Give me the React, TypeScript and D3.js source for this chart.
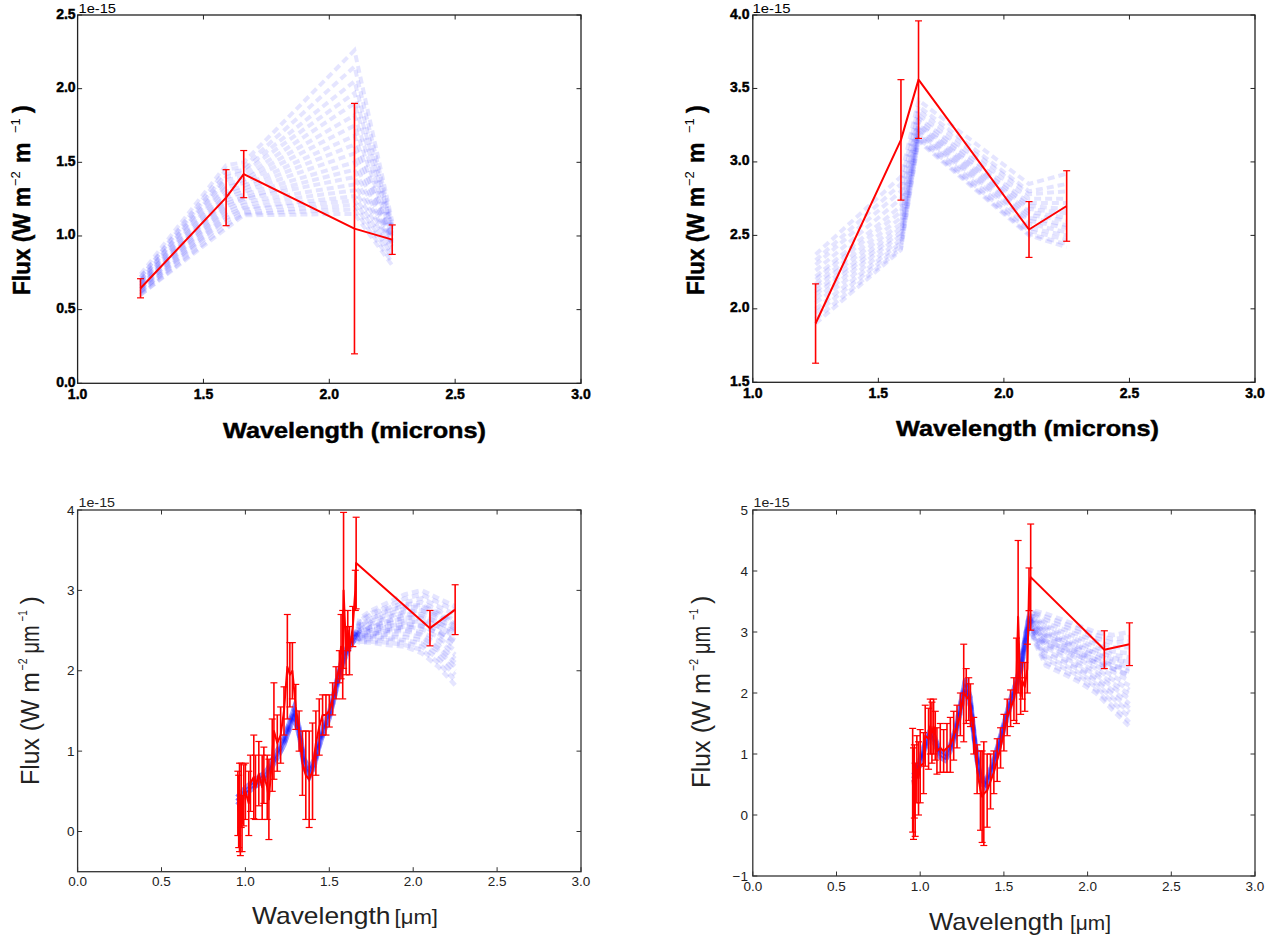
import React from 'react';
import * as d3 from 'd3';

const W = 1284;
const H = 943;

// ---------- top row: photometric fit (5 filters) ----------
const photWl = [1.25, 1.59, 1.66, 2.10, 2.25];

const p1Flux = [0.645, 1.26, 1.42, 1.05, 0.975];
const p1Err = [0.065, 0.19, 0.16, 0.85, 0.10];
const p1Models = [
  [0.74, 1.48, 1.50, 2.26, 1.10],
  [0.72, 1.45, 1.47, 2.15, 1.08],
  [0.72, 1.42, 1.45, 2.05, 1.06],
  [0.70, 1.40, 1.43, 1.97, 1.05],
  [0.70, 1.38, 1.40, 1.90, 1.04],
  [0.69, 1.35, 1.38, 1.82, 1.02],
  [0.68, 1.33, 1.36, 1.75, 1.00],
  [0.68, 1.30, 1.34, 1.68, 0.99],
  [0.67, 1.28, 1.32, 1.62, 0.98],
  [0.66, 1.26, 1.30, 1.56, 0.97],
  [0.66, 1.24, 1.28, 1.50, 0.96],
  [0.65, 1.22, 1.26, 1.45, 0.95],
  [0.64, 1.20, 1.25, 1.40, 0.94],
  [0.64, 1.18, 1.23, 1.35, 0.93],
  [0.63, 1.16, 1.21, 1.31, 0.91],
  [0.62, 1.14, 1.19, 1.27, 0.89],
  [0.62, 1.12, 1.18, 1.24, 0.87],
  [0.61, 1.10, 1.16, 1.21, 0.85],
  [0.60, 1.07, 1.15, 1.18, 0.82],
  [0.60, 1.05, 1.14, 1.15, 0.80],
];

const p2Flux = [1.90, 3.15, 3.56, 2.54, 2.70];
const p2Err = [0.27, 0.41, 0.40, 0.19, 0.24];
const p2Models = [
  [2.37, 2.90, 3.42, 2.85, 2.92],
  [2.33, 2.85, 3.38, 2.80, 2.85],
  [2.30, 2.80, 3.35, 2.78, 2.80],
  [2.26, 2.75, 3.32, 2.75, 2.75],
  [2.22, 2.70, 3.30, 2.72, 2.72],
  [2.20, 2.66, 3.28, 2.70, 2.68],
  [2.17, 2.62, 3.26, 2.68, 2.65],
  [2.15, 2.58, 3.25, 2.66, 2.62],
  [2.12, 2.55, 3.23, 2.64, 2.60],
  [2.10, 2.52, 3.22, 2.62, 2.57],
  [2.07, 2.50, 3.20, 2.60, 2.55],
  [2.04, 2.47, 3.19, 2.58, 2.52],
  [2.00, 2.45, 3.18, 2.55, 2.50],
  [1.97, 2.43, 3.16, 2.53, 2.47],
  [1.93, 2.41, 3.15, 2.51, 2.44],
  [1.90, 2.40, 3.14, 2.50, 2.42],
];

// ---------- bottom row: spectrum + photometry ----------
const bPhotWl = [1.66, 2.10, 2.25];
const tailWl = [1.68, 1.75, 1.85, 1.95, 2.05, 2.15, 2.25];

// bottom-left
const p3SpecWl = [0.955, 0.96, 0.965, 0.97, 0.975, 0.98, 0.99, 1.0, 1.02, 1.03, 1.05, 1.06, 1.08, 1.1, 1.11, 1.13,
  1.14, 1.16, 1.17, 1.19, 1.21, 1.23, 1.25, 1.265, 1.28, 1.3, 1.32, 1.34, 1.36, 1.38, 1.4, 1.42, 1.44, 1.46,
  1.48, 1.5, 1.52, 1.54, 1.56, 1.57, 1.58, 1.585, 1.6, 1.61, 1.62, 1.64, 1.655];
const p3SpecFlux = [0.35, 0.25, 0.3, 0.05, 0.45, 0.1, 0.45, 0.5, 0.35, 0.6, 0.68, 0.55, 0.72, 0.55, 0.7, 0.55,
  0.4, 0.95, 1.25, 1.1, 1.2, 1.5, 2.05, 1.95, 2.0, 1.55, 1.25, 0.85, 0.7, 0.65, 0.75, 1.1, 1.3, 1.45,
  1.45, 1.5, 1.65, 1.85, 2.05, 2.3, 2.2, 3.0, 2.25, 2.5, 2.25, 2.55, 3.0];
const p3SpecErr = [0.4, 0.45, 0.55, 0.35, 0.4, 0.35, 0.38, 0.35, 0.4, 0.35, 0.52, 0.4, 0.4, 0.4, 0.35, 0.4,
  0.5, 0.45, 0.6, 0.35, 0.35, 0.3, 0.65, 0.4, 0.35, 0.28, 0.25, 0.4, 0.55, 0.6, 0.6, 0.4, 0.35, 0.25,
  0.25, 0.2, 0.2, 0.2, 0.2, 0.4, 0.55, 0.97, 0.3, 0.25, 0.3, 0.25, 0.25];
const p3PhotFlux = [3.34, 2.53, 2.76];
const p3PhotErr = [0.57, 0.22, 0.31];

const p3BandWl = [0.95, 0.98, 1.0, 1.03, 1.06, 1.1, 1.13, 1.16, 1.2, 1.23, 1.26, 1.29, 1.32, 1.35, 1.38, 1.41,
  1.44, 1.47, 1.5, 1.53, 1.56, 1.59, 1.62, 1.65];
const p3BandLo = [0.33, 0.41, 0.46, 0.51, 0.56, 0.62, 0.68, 0.8, 0.95, 1.07, 1.25, 1.42, 1.19, 0.79, 0.67, 0.8,
  1.05, 1.25, 1.4, 1.65, 1.93, 2.13, 2.28, 2.38];
const p3BandMid = [0.38, 0.45, 0.5, 0.55, 0.6, 0.66, 0.72, 0.85, 1.0, 1.12, 1.3, 1.48, 1.25, 0.85, 0.72, 0.85,
  1.1, 1.3, 1.45, 1.7, 1.98, 2.18, 2.32, 2.42];
const p3BandHi = [0.43, 0.5, 0.55, 0.6, 0.65, 0.71, 0.77, 0.9, 1.05, 1.17, 1.35, 1.54, 1.31, 0.91, 0.78, 0.9,
  1.15, 1.35, 1.5, 1.75, 2.03, 2.23, 2.36, 2.46];
const p3Tails = [
  [2.65, 2.75, 2.85, 2.95, 3.0, 2.9, 2.8],
  [2.6, 2.7, 2.78, 2.85, 2.9, 2.8, 2.7],
  [2.55, 2.62, 2.7, 2.78, 2.8, 2.7, 2.58],
  [2.5, 2.55, 2.62, 2.7, 2.7, 2.6, 2.48],
  [2.48, 2.52, 2.58, 2.62, 2.6, 2.5, 2.35],
  [2.45, 2.48, 2.52, 2.55, 2.52, 2.42, 2.25],
  [2.42, 2.45, 2.48, 2.5, 2.45, 2.32, 2.15],
  [2.4, 2.42, 2.42, 2.42, 2.38, 2.25, 2.05],
  [2.38, 2.38, 2.38, 2.35, 2.3, 2.15, 1.95],
  [2.35, 2.35, 2.32, 2.3, 2.22, 2.05, 1.82],
  [2.5, 2.6, 2.68, 2.72, 2.75, 2.68, 2.55],
  [2.45, 2.5, 2.55, 2.6, 2.62, 2.55, 2.45],
  [2.62, 2.72, 2.8, 2.9, 2.95, 2.85, 2.75],
  [2.57, 2.65, 2.74, 2.82, 2.85, 2.75, 2.62],
  [2.52, 2.58, 2.66, 2.74, 2.75, 2.65, 2.52],
  [2.49, 2.54, 2.6, 2.66, 2.65, 2.55, 2.42],
  [2.46, 2.5, 2.55, 2.58, 2.56, 2.46, 2.3],
  [2.43, 2.46, 2.5, 2.52, 2.48, 2.38, 2.2],
  [2.41, 2.43, 2.45, 2.46, 2.42, 2.28, 2.1],
  [2.39, 2.4, 2.4, 2.38, 2.34, 2.2, 2.0],
  [2.36, 2.36, 2.35, 2.32, 2.26, 2.1, 1.88],
  [2.55, 2.65, 2.75, 2.8, 2.82, 2.72, 2.6],
  [2.47, 2.55, 2.62, 2.66, 2.68, 2.6, 2.5],
  [2.4, 2.45, 2.5, 2.55, 2.55, 2.48, 2.38],
];

// bottom-right
const p4SpecWl = [0.955, 0.96, 0.965, 0.97, 0.98, 0.99, 1.0, 1.02, 1.03, 1.05, 1.06, 1.07, 1.08, 1.09, 1.1, 1.12,
  1.14, 1.16, 1.18, 1.2, 1.22, 1.24, 1.26, 1.275, 1.29, 1.3, 1.32, 1.34, 1.36, 1.37, 1.38, 1.4, 1.42, 1.44,
  1.46, 1.48, 1.5, 1.52, 1.54, 1.56, 1.575, 1.585, 1.6, 1.61, 1.625, 1.64, 1.65];
const p4SpecFlux = [0.57, 0.35, 0.55, 0.25, 0.75, 0.6, 0.8, 0.85, 1.3, 1.25, 1.45, 1.35, 1.45, 1.3, 1.05, 1.1,
  1.05, 1.1, 1.15, 1.3, 1.45, 1.65, 2.0, 1.95, 1.9, 1.8, 1.3, 0.75, 0.4, 0.3, 0.35, 0.4, 0.55, 0.7,
  0.9, 1.1, 1.35, 1.6, 1.75, 1.9, 2.2, 3.25, 1.95, 2.2, 2.1, 2.4, 3.7];
const p4SpecErr = [0.85, 0.75, 0.6, 0.6, 0.55, 0.6, 0.6, 0.5, 0.5, 0.5, 0.45, 0.5, 0.45, 0.4, 0.38, 0.4,
  0.35, 0.4, 0.45, 0.4, 0.35, 0.35, 0.8, 0.45, 0.35, 0.35, 0.3, 0.4, 0.65, 0.75, 0.85, 0.6, 0.45, 0.35,
  0.35, 0.33, 0.3, 0.3, 0.3, 0.35, 0.7, 1.25, 0.3, 0.3, 0.4, 0.4, 0.35];
const p4PhotFlux = [3.9, 2.71, 2.8];
const p4PhotErr = [0.87, 0.31, 0.35];

const p4BandWl = [0.96, 0.98, 1.0, 1.03, 1.06, 1.09, 1.12, 1.15, 1.18, 1.21, 1.24, 1.27, 1.3, 1.33, 1.36, 1.39,
  1.42, 1.45, 1.48, 1.51, 1.54, 1.57, 1.6, 1.63, 1.65];
const p4BandLo = [0.54, 0.69, 0.82, 1.09, 1.29, 1.14, 0.94, 0.89, 1.04, 1.28, 1.67, 2.06, 1.77, 1.03, 0.54, 0.44,
  0.64, 0.89, 1.19, 1.49, 1.79, 2.04, 2.33, 2.82, 3.12];
const p4BandMid = [0.6, 0.75, 0.88, 1.15, 1.35, 1.2, 1.0, 0.95, 1.1, 1.35, 1.75, 2.15, 1.85, 1.1, 0.6, 0.5,
  0.7, 0.95, 1.25, 1.55, 1.85, 2.1, 2.4, 2.9, 3.2];
const p4BandHi = [0.66, 0.81, 0.94, 1.21, 1.41, 1.26, 1.06, 1.01, 1.16, 1.42, 1.83, 2.24, 1.93, 1.17, 0.66, 0.56,
  0.76, 1.01, 1.31, 1.61, 1.91, 2.16, 2.47, 2.98, 3.28];
const p4Tails = [
  [3.35, 3.3, 3.2, 3.1, 3.0, 2.95, 3.0],
  [3.3, 3.2, 3.1, 3.0, 2.9, 2.82, 2.85],
  [3.25, 3.1, 3.0, 2.9, 2.8, 2.68, 2.65],
  [3.2, 3.05, 2.92, 2.82, 2.7, 2.58, 2.5],
  [3.15, 2.98, 2.85, 2.72, 2.6, 2.45, 2.35],
  [3.1, 2.9, 2.78, 2.65, 2.5, 2.35, 2.2],
  [3.05, 2.82, 2.7, 2.55, 2.4, 2.22, 2.05],
  [3.0, 2.75, 2.6, 2.45, 2.3, 2.1, 1.9],
  [2.95, 2.65, 2.52, 2.38, 2.2, 1.98, 1.75],
  [2.9, 2.55, 2.42, 2.28, 2.1, 1.85, 1.6],
  [2.85, 2.45, 2.32, 2.18, 2.0, 1.72, 1.45],
  [3.1, 2.85, 2.75, 2.65, 2.55, 2.45, 2.4],
  [3.32, 3.25, 3.15, 3.05, 2.95, 2.88, 2.92],
  [3.28, 3.15, 3.05, 2.95, 2.85, 2.75, 2.75],
  [3.22, 3.08, 2.96, 2.86, 2.75, 2.63, 2.58],
  [3.18, 3.0, 2.88, 2.77, 2.65, 2.5, 2.42],
  [3.12, 2.94, 2.82, 2.68, 2.55, 2.4, 2.28],
  [3.08, 2.86, 2.74, 2.6, 2.45, 2.28, 2.12],
  [3.02, 2.78, 2.65, 2.5, 2.35, 2.16, 1.98],
  [2.98, 2.7, 2.56, 2.42, 2.25, 2.04, 1.82],
  [2.92, 2.6, 2.47, 2.33, 2.15, 1.92, 1.68],
  [2.88, 2.5, 2.37, 2.23, 2.05, 1.78, 1.52],
  [3.15, 2.95, 2.85, 2.75, 2.65, 2.55, 2.5],
  [3.05, 2.8, 2.7, 2.6, 2.5, 2.4, 2.3],
];

const topXTicks = [1.0, 1.5, 2.0, 2.5, 3.0];
const p1YTicks = [0.0, 0.5, 1.0, 1.5, 2.0, 2.5];
const p2YTicks = [1.5, 2.0, 2.5, 3.0, 3.5, 4.0];
const botXTicks = [0.0, 0.5, 1.0, 1.5, 2.0, 2.5, 3.0];
const p3YTicks = [0, 1, 2, 3, 4];
const p4YTicks = [-1, 0, 1, 2, 3, 4, 5];

// build model lists (band variant + tail per model)
const bandModels = (bandWl, bands, tails) =>
  tails.map((t, i) => ({ wl: [...bandWl, ...tailWl], flux: [...bands[i % 3], ...t] }));

const fmt1 = d3.format('.1f');
const fmtInt = (v) => (v < 0 ? '\u2212' + Math.abs(v) : String(v));

const panels = [
  {
    box: { l: 77.6, r: 581, t: 15, b: 383.3 },
    xDomain: [1, 3], yDomain: [0, 2.5], xTicks: topXTicks, yTicks: p1YTicks, fmtY: fmt1,
    bold: true, modelWidth: 4, phase: 0,
    models: p1Models.map((f) => ({ wl: photWl, flux: f })),
    red: { wl: photWl, flux: p1Flux, err: p1Err },
    offset: { x: 78.5, y: 13, len: 37.5 },
    xTickBase: 399, yTickRight: 75.6, yTickShift: -1.5,
    xlabel: [{ text: 'Wavelength (microns)', x: 223, len: 263, size: 22 }], xlabelBase: 438,
    ylabel: { bx: 30, cy: 199, size: 23, sup: 13, dy: -10,
      parts: [['Flux (W m', -96, 108], ['\u22122', 13], ['m', 36], ['\u22121', 66], [')', 86]] },
  },
  {
    box: { l: 752.8, r: 1255, t: 15, b: 382.3 },
    xDomain: [1, 3], yDomain: [1.5, 4.0], xTicks: topXTicks, yTicks: p2YTicks, fmtY: fmt1,
    bold: true, modelWidth: 4, phase: 0,
    models: p2Models.map((f) => ({ wl: photWl, flux: f })),
    red: { wl: photWl, flux: p2Flux, err: p2Err },
    offset: { x: 752.5, y: 13, len: 38 },
    xTickBase: 398, yTickRight: 749.5, yTickShift: -1.5,
    xlabel: [{ text: 'Wavelength (microns)', x: 896, len: 263, size: 22 }], xlabelBase: 436,
    ylabel: { bx: 704, cy: 199, size: 23, sup: 13, dy: -10,
      parts: [['Flux (W m', -96, 108], ['\u22122', 13], ['m', 36], ['\u22121', 66], [')', 86]] },
  },
  {
    box: { l: 77.6, r: 581, t: 510, b: 871.7 },
    xDomain: [0, 3], yDomain: [-0.5, 4], xTicks: botXTicks, yTicks: p3YTicks, fmtY: fmtInt,
    bold: false, modelWidth: 4.5, phase: 3,
    models: bandModels(p3BandWl, [p3BandLo, p3BandMid, p3BandHi], p3Tails),
    red: {
      wl: [...p3SpecWl, ...bPhotWl],
      flux: [...p3SpecFlux, ...p3PhotFlux],
      err: [...p3SpecErr, ...p3PhotErr],
    },
    offset: { x: 78.5, y: 506.7, len: 36.5 },
    xTickBase: 886, yTickRight: 74.4, yTickShift: 0,
    xlabel: [
      { text: 'Wavelength', x: 252, len: 138.5, size: 24 },
      { text: '[\u03bcm]', x: 394.6, len: 43.4, size: 20 },
    ], xlabelBase: 924,
    ylabel: { bx: 39, cy: 691.5, size: 25, sup: 13, dy: -12,
      parts: [['Flux (W m', -93.5, 113], ['\u22122', 21, 12], ['\u03bcm', 38, 28], ['\u22121', 70, 11], [')', 87]] },
  },
  {
    box: { l: 752.8, r: 1255, t: 510, b: 876 },
    xDomain: [0, 3], yDomain: [-1, 5], xTicks: botXTicks, yTicks: p4YTicks, fmtY: fmtInt,
    bold: false, modelWidth: 4.5, phase: 3,
    models: bandModels(p4BandWl, [p4BandLo, p4BandMid, p4BandHi], p4Tails),
    red: {
      wl: [...p4SpecWl, ...bPhotWl],
      flux: [...p4SpecFlux, ...p4PhotFlux],
      err: [...p4SpecErr, ...p4PhotErr],
    },
    offset: { x: 753.6, y: 506.7, len: 36 },
    xTickBase: 890.7, yTickRight: 748, yTickShift: 0,
    xlabel: [
      { text: 'Wavelength', x: 929, len: 134.5, size: 24 },
      { text: '[\u03bcm]', x: 1070, len: 41, size: 20 },
    ], xlabelBase: 930,
    ylabel: { bx: 710, cy: 694, size: 25, sup: 13, dy: -12,
      parts: [['Flux (W m', -94, 115], ['\u22122', 23, 12], ['\u03bcm', 40, 28], ['\u22121', 74, 11], [')', 90]] },
  },
];

function Panel({ cfg }) {
  const { box } = cfg;
  const x = d3.scaleLinear().domain(cfg.xDomain).range([box.l, box.r]);
  const y = d3.scaleLinear().domain(cfg.yDomain).range([box.b, box.t]);
  const line = d3.line().x((d) => x(d[0])).y((d) => y(d[1]));

  const font = 'Liberation Sans, Arial, sans-serif';
  const txt = cfg.bold ? '#000' : '#222';
  const weight = cfg.bold ? 700 : 400;
  const thick = cfg.bold ? { stroke: '#000', strokeWidth: 0.45 } : {};
  const tickLen = 4.5;
  const spine = cfg.bold ? '#222' : '#333';

  const { wl, flux, err } = cfg.red;
  const redPts = wl.map((w, i) => [w, flux[i]]);
  const lab = cfg.ylabel;

  return (
    <g>
      {/* model spectra */}
      <g fill="none" stroke="#0000ff" strokeOpacity={0.1} strokeWidth={cfg.modelWidth} strokeDasharray="7 4">
        {cfg.models.map((m, i) => (
          <path key={i} d={line(m.wl.map((w, j) => [w, m.flux[j]]))} strokeDashoffset={(i * cfg.phase) % 11} />
        ))}
      </g>

      {/* data with error bars */}
      <g stroke="#ff0000" fill="none">
        {wl.map((w, i) => (
          <g key={i}>
            <line x1={x(w)} x2={x(w)} y1={y(flux[i] - err[i])} y2={y(flux[i] + err[i])} strokeWidth={1.6} />
            <line x1={x(w) - 3.5} x2={x(w) + 3.5} y1={y(flux[i] - err[i])} y2={y(flux[i] - err[i])} strokeWidth={1.2} />
            <line x1={x(w) - 3.5} x2={x(w) + 3.5} y1={y(flux[i] + err[i])} y2={y(flux[i] + err[i])} strokeWidth={1.2} />
          </g>
        ))}
        <path d={line(redPts)} strokeWidth={2} strokeLinejoin="round" />
      </g>

      {/* frame */}
      <rect x={box.l} y={box.t} width={box.r - box.l} height={box.b - box.t} fill="none" stroke={spine} strokeWidth={1.3} />
      <g stroke={spine} strokeWidth={1}>
        {cfg.xTicks.map((t) => (
          <g key={'x' + t}>
            <line x1={x(t)} x2={x(t)} y1={box.b} y2={box.b - tickLen} />
            <line x1={x(t)} x2={x(t)} y1={box.t} y2={box.t + tickLen} />
          </g>
        ))}
        {cfg.yTicks.map((t) => (
          <g key={'y' + t}>
            <line x1={box.l} x2={box.l + tickLen} y1={y(t)} y2={y(t)} />
            <line x1={box.r} x2={box.r - tickLen} y1={y(t)} y2={y(t)} />
          </g>
        ))}
      </g>

      {/* tick labels */}
      <g fontFamily={font} fontWeight={weight} fill={txt} fontSize={cfg.bold ? 14 : 13.5} {...thick}>
        {cfg.xTicks.map((t) => (
          <text key={'xl' + t} x={x(t)} y={cfg.xTickBase} textAnchor="middle">{fmt1(t)}</text>
        ))}
        {cfg.yTicks.map((t) => (
          <text key={'yl' + t} x={cfg.yTickRight} y={y(t) + cfg.yTickShift} textAnchor="end" dominantBaseline="central">{cfg.fmtY(t)}</text>
        ))}
      </g>

      {/* offset text */}
      <text x={cfg.offset.x} y={cfg.offset.y} fontFamily={font} fontSize={13} fill={txt}
        textLength={cfg.offset.len} lengthAdjust="spacingAndGlyphs">1e-15</text>

      {/* x label */}
      <g fontFamily={font} fontWeight={weight} fill={txt} {...thick}>
        {cfg.xlabel.map((p) => (
          <text key={p.text} x={p.x} y={cfg.xlabelBase} fontSize={p.size}
            textLength={p.len} lengthAdjust="spacingAndGlyphs">{p.text}</text>
        ))}
      </g>

      {/* y label */}
      <g transform={`translate(${lab.bx},${lab.cy}) rotate(-90)`} fontFamily={font} fill={txt}>
        {lab.parts.map(([t, px, len], i) => {
          const isSup = t.startsWith('\u2212');
          return (
            <text key={i} x={px} y={isSup ? lab.dy : 0}
              fontSize={isSup ? lab.sup : lab.size}
              fontWeight={isSup ? 400 : weight}
              {...(isSup ? {} : thick)}
              {...(len ? { textLength: len, lengthAdjust: 'spacingAndGlyphs' } : {})}>
              {t}
            </text>
          );
        })}
      </g>
    </g>
  );
}

export default function App() {
  return (
    <svg width={W} height={H} viewBox={`0 0 ${W} ${H}`}
      style={{ position: 'absolute', left: 0, top: 0, background: '#fff' }}>
      <rect width={W} height={H} fill="#fff" />
      {panels.map((p, i) => <Panel key={i} cfg={p} />)}
    </svg>
  );
}
